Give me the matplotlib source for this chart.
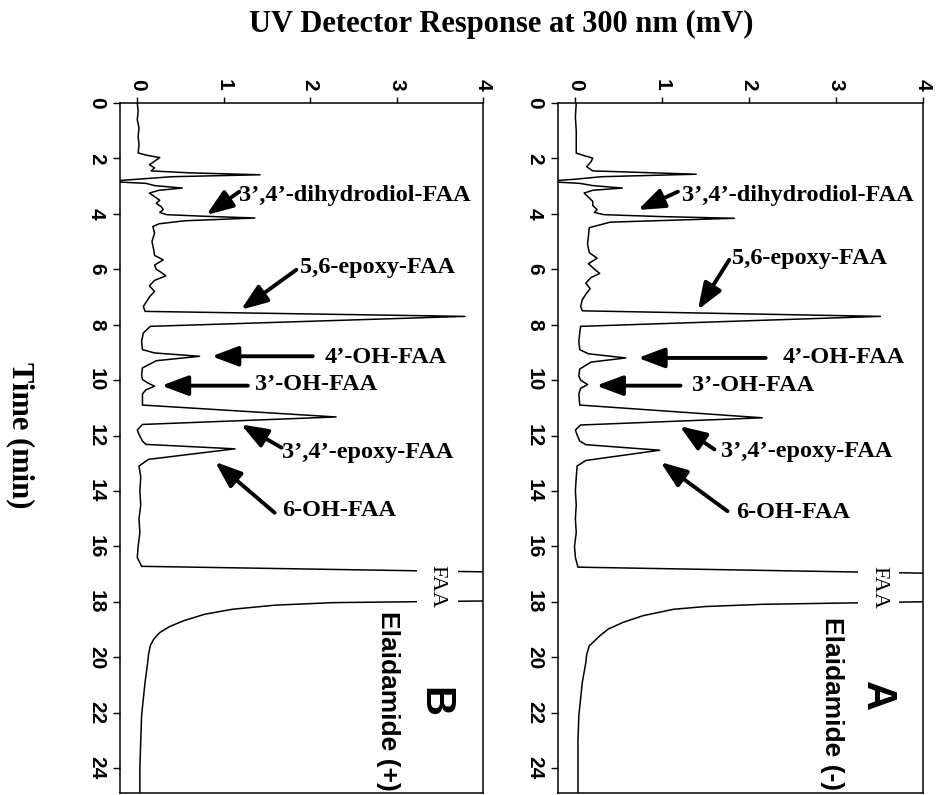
import matplotlib
matplotlib.use('Agg')
import matplotlib.pyplot as plt

# chromatogram B (elaidamide +), time in min / response in mV
time_b = [0.0, 0.3, 0.6, 0.9, 1.2, 1.5, 1.8, 1.88, 1.97, 2.1,
          2.23, 2.34, 2.45, 2.52, 2.59, 2.66, 2.74, 2.83, 2.9, 2.98,
          3.07, 3.15, 3.25, 3.38, 3.51, 3.62, 3.75, 3.85, 3.95, 4.03,
          4.09, 4.15, 4.25, 4.36, 4.46, 4.7, 5.0, 5.3, 5.5, 5.66,
          5.85, 6.0, 6.12, 6.24, 6.4, 6.6, 6.8, 7.0, 7.2, 7.34,
          7.52, 7.7, 8.06, 8.3, 8.6, 8.9, 9.02, 9.14, 9.3, 9.56,
          9.8, 9.98, 10.1, 10.22, 10.35, 10.5, 10.9, 11.33, 11.6, 11.8,
          11.96, 12.2, 12.32, 12.48, 12.86, 13.1, 13.5, 14.0, 14.5, 15.0,
          15.5, 16.0, 16.4, 16.72, 16.95, 17.45, 17.95, 18.03, 18.12, 18.27,
          18.45, 18.69, 18.9, 19.11, 19.35, 19.59, 19.9, 20.2, 20.9, 21.5,
          22.1, 23.0, 24.0, 24.9]
resp_b = [0.0, 0.01, 0.0, 0.02, 0.01, 0.02, 0.01, 0.1, 0.26, 0.2,
          0.14, 0.2, 0.16, 0.6, 1.42, 0.4, 0.05, -0.35, 0.1, 0.2,
          0.52, 0.25, 0.14, 0.2, 0.26, 0.22, 0.28, 0.3, 0.26, 0.34,
          0.8, 1.36, 0.55, 0.25, 0.18, 0.2, 0.17, 0.19, 0.2, 0.3,
          0.2, 0.22, 0.28, 0.33, 0.2, 0.14, 0.2, 0.14, 0.1, 0.07,
          0.09, 3.79, 0.15, 0.07, 0.05, 0.06, 0.2, 0.72, 0.22, 0.06,
          0.05, 0.06, 0.12, 0.2, 0.1, 0.06, 0.06, 2.3, 0.06, 0.0,
          0.02, 0.06, 0.1, 1.13, 0.13, 0.02, 0.04, 0.03, 0.04, 0.02,
          0.03, 0.01, 0.0, 0.05, 4.6, 9.0, 4.6, 2.27, 1.6, 1.1,
          0.78, 0.53, 0.37, 0.26, 0.19, 0.15, 0.13, 0.12, 0.09, 0.07,
          0.05, 0.04, 0.03, 0.03]

# chromatogram A (elaidamide -)
time_a = [0.0, 0.5, 1.0, 1.5, 1.81, 1.9, 1.99, 2.12, 2.3, 2.45,
          2.57, 2.66, 2.75, 2.83, 2.9, 2.98, 3.07, 3.15, 3.25, 3.4,
          3.55, 3.7, 3.85, 3.95, 4.03, 4.1, 4.16, 4.3, 4.5, 4.8,
          5.1, 5.4, 5.6, 5.8, 6.0, 6.15, 6.3, 6.5, 6.7, 6.9,
          7.1, 7.34, 7.5, 7.7, 8.06, 8.3, 8.6, 8.9, 9.05, 9.2,
          9.35, 9.6, 9.85, 10.0, 10.16, 10.3, 10.5, 10.9, 11.36, 11.62,
          11.8, 11.98, 12.2, 12.33, 12.53, 12.9, 13.1, 13.5, 14.0, 14.5,
          15.0, 15.5, 16.0, 16.4, 16.75, 17.0, 17.5, 17.97, 18.09, 18.17,
          18.27, 18.5, 18.74, 18.98, 19.23, 19.59, 19.9, 20.2, 20.9, 21.5,
          22.1, 23.0, 24.0, 24.9]
resp_a = [0.01, 0.0, 0.01, 0.01, 0.01, 0.1, 0.2, 0.18, 0.13, 0.2,
          1.39, 0.3, 0.0, -0.35, 0.05, 0.2, 0.54, 0.2, 0.1, 0.15,
          0.2, 0.2, 0.25, 0.22, 0.33, 1.0, 1.83, 0.4, 0.16, 0.15,
          0.14, 0.16, 0.25, 0.15, 0.22, 0.28, 0.18, 0.12, 0.17, 0.12,
          0.08, 0.06, 0.08, 3.51, 0.06, 0.05, 0.04, 0.05, 0.15, 0.58,
          0.18, 0.05, 0.04, 0.06, 0.14, 0.06, 0.04, 0.05, 2.15, 0.06,
          0.0, 0.02, 0.05, 0.12, 0.97, 0.12, 0.02, 0.01, 0.0, 0.01,
          0.0, 0.01, -0.01, 0.0, 0.03, 4.6, 9.0, 4.6, 2.16, 1.5,
          1.13, 0.78, 0.55, 0.38, 0.28, 0.16, 0.13, 0.12, 0.08, 0.06,
          0.04, 0.03, 0.03, 0.03]

time_ticks = list(range(0, 25, 2))
resp_ticks = [0, 1, 2, 3, 4]
peak_names = ['3\u2019,4\u2019-dihydrodiol-FAA', '5,6-epoxy-FAA', '4\u2019-OH-FAA',
              '3\u2019-OH-FAA', '3\u2019,4\u2019-epoxy-FAA', '6-OH-FAA']

# where the labels and arrows sit (response, time)
text_b = [(1.18, 3.32), (1.88, 5.95), (2.17, 9.17), (1.36, 10.16), (1.68, 12.6), (1.68, 14.69)]
tail_b = [(1.18, 3.2), (1.84, 6.02), (2.03, 9.14), (1.28, 10.2), (1.67, 12.44), (1.59, 14.79)]
head_b = [(0.8, 4.04), (1.2, 7.46), (0.86, 9.14), (0.28, 10.2), (1.2, 11.6), (0.9, 12.95)]
text_a = [(1.23, 3.32), (1.8, 5.6), (2.38, 9.2), (1.34, 10.2), (1.67, 12.56), (1.85, 14.79)]
tail_a = [(1.18, 3.2), (1.77, 5.66), (2.19, 9.2), (1.21, 10.2), (1.6, 12.5), (1.75, 14.73)]
head_a = [(0.72, 3.86), (1.41, 7.46), (0.72, 9.2), (0.24, 10.2), (1.2, 11.66), (0.98, 12.96)]

SERIF = ['Liberation Serif', 'DejaVu Serif']
SANS = ['Liberation Sans', 'DejaVu Sans']


def draw_panel(ax, t, r, letter, cond, texts, tails, heads, faa_pos, letter_pos, cond_pos):
   ax.plot(r, t, color='black', lw=1.1)
   ax.set_xlim(-0.2, 4)
   ax.set_ylim(24.9, 0)
   ax.xaxis.tick_top()
   ax.set_xticks(resp_ticks)
   ax.set_xticklabels([str(v) for v in resp_ticks], rotation=-90,
                      fontsize=15, fontweight='bold', family=SANS)
   ax.set_yticks(time_ticks)
   ax.set_yticklabels([str(v) for v in time_ticks], rotation=-90, va='center',
                      fontsize=15, fontweight='bold', family=SANS)
   ax.tick_params(axis='x', direction='out', length=4, width=1, pad=5)
   ax.tick_params(axis='y', direction='out', length=5, width=1, pad=5)
   for s in ax.spines.values():
      s.set_linewidth(1.1)

   for name, txt, tail, head in zip(peak_names, texts, tails, heads):
      ax.annotate('', xy=head, xytext=tail,
                  arrowprops=dict(arrowstyle='-|>,head_length=0.8,head_width=0.3',
                                  lw=2.8, color='black', mutation_scale=20,
                                  shrinkA=0, shrinkB=0))
      ax.text(txt[0], txt[1], name, ha='left', va='center', fontsize=17.5,
              fontweight='bold', family=SERIF)

   ax.text(faa_pos[0], faa_pos[1], 'FAA', rotation=-90, ha='center', va='center',
           fontsize=16, family=SERIF, zorder=5,
           bbox=dict(facecolor='white', edgecolor='none', pad=8))
   ax.text(letter_pos[0], letter_pos[1], letter, rotation=-90, ha='center', va='center',
           fontsize=30, fontweight='bold', family=SANS)
   ax.text(cond_pos[0], cond_pos[1], cond, rotation=-90, ha='center', va='center',
           fontsize=19, fontweight='bold', family=SANS, clip_on=False)


fig = plt.figure(figsize=(9.45, 7.95), dpi=100)
ax_b = fig.add_axes([120 / 945, 2 / 795, 363 / 945, 690 / 795])
ax_a = fig.add_axes([558 / 945, 2 / 795, 365 / 945, 690 / 795])

draw_panel(ax_b, time_b, resp_b, 'B', 'Elaidamide (+)', text_b, tail_b, head_b,
           (3.47, 17.45), (3.44, 21.6), (2.9, 21.57))
draw_panel(ax_a, time_a, resp_a, 'A', 'Elaidamide (-)', text_a, tail_a, head_a,
           (3.49, 17.5), (3.47, 21.4), (2.95, 21.66))

fig.text(501 / 945, 1 - 24 / 795, 'UV Detector Response at 300 nm (mV)', ha='center',
         va='center', fontsize=22, fontweight='bold', family=SERIF)
fig.text(20 / 945, 1 - 435 / 795, 'Time (min)', rotation=-90, ha='center', va='center',
         fontsize=22, fontweight='bold', family=SERIF)

fig.savefig('out.png', dpi=100)
